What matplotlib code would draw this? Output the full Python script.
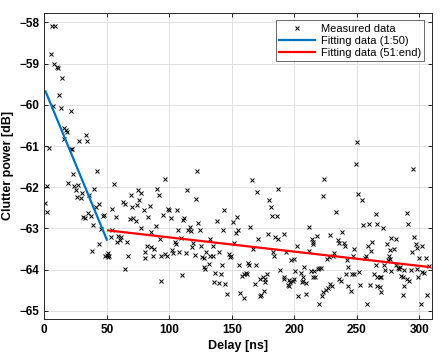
import numpy as np
import matplotlib
matplotlib.use('Agg')
import matplotlib.pyplot as plt

plt.rcParams['font.family'] = ['Liberation Sans', 'DejaVu Sans']

# measured clutter power vs delay
delay_ns = [
    0.6, 2.4, 2.4, 4.0, 5.1, 5.9, 7.2, 8.0, 8.8, 10.4, 11.2, 12.0, 13.1, 14.1, 15.7, 15.7,
    17.3, 17.9, 19.1, 21.0, 21.0, 22.3, 23.1, 23.9, 25.3, 26.3, 27.1, 27.9, 29.0, 29.8,
    31.1, 32.2, 33.0, 33.8, 35.1, 35.9, 37.0, 38.3, 39.1, 39.9, 41.2, 42.0, 43.6, 43.9,
    45.2, 46.6, 47.6, 48.4, 49.8, 51.0, 51.6, 50.6,
    55.8, 96.3, 90.1, 91.5, 75.0, 77.7, 69.1, 63.0, 64.4, 75.8, 74.2, 70.2, 79.7, 84.3,
    54.2, 98.9, 99.7, 57.2, 94.9, 68.3, 71.0, 73.1, 82.9, 77.1, 89.1, 54.2, 85.1, 92.3,
    53.2, 59.0, 61.2, 60.4, 58.5, 66.5, 82.5, 85.6, 87.7, 80.3, 80.9, 86.9, 93.6, 96.3,
    98.1, 67.0, 64.9, 93.1,
    122.0, 114.0, 121.0, 106.1, 144.1, 101.6, 110.9, 112.0, 122.8, 138.3, 151.3, 154.2,
    106.9, 114.8, 116.2, 117.0, 124.2, 143.3, 109.6, 104.2, 105.0, 132.9, 118.8, 118.0,
    125.0, 134.8, 129.5, 132.9, 134.8, 102.4, 102.9, 107.7, 113.6, 120.2, 126.0, 127.6,
    139.6, 147.5, 148.6, 149.4, 132.1, 141.9, 127.6, 128.9, 110.0, 136.9, 141.5, 136.1,
    139.6, 144.9, 146.2,
    165.9, 169.9, 186.6, 180.0, 181.3, 181.8, 186.1, 164.8, 154.7, 153.4, 178.6, 171.2,
    184.8, 186.6, 191.9, 152.1, 201.8, 166.7, 182.6, 184.0, 193.3, 197.3, 199.9, 156.1,
    162.7, 164.0, 169.4, 188.8, 200.7, 205.3, 158.0, 159.5, 161.4, 162.2, 177.8, 176.5,
    174.6, 172.5, 191.4, 192.0, 195.4, 196.7, 198.6, 199.4, 194.6, 195.9, 168.6, 176.8,
    156.9, 160.1, 173.4, 175.4, 172.8, 202.6,
    250.4, 249.1, 223.8, 223.0, 251.2, 253.9, 233.2, 211.3, 255.2, 217.7, 214.0, 215.0,
    214.5, 228.4, 238.0, 234.5, 235.3, 239.8, 240.6, 247.8, 211.9, 231.3, 230.5, 247.0,
    225.7, 227.3, 242.4, 257.1, 256.3, 207.9, 213.2, 215.9, 218.5, 219.9, 221.2, 243.2,
    206.5, 207.1, 209.2, 206.1, 214.5, 216.7, 241.2, 246.0, 247.8, 251.8, 235.3, 237.2,
    228.6, 230.0, 226.5, 225.2, 252.6, 243.2, 245.1, 209.2, 223.0, 222.0, 219.9, 258.4,
    295.1, 265.1, 289.8, 290.8, 259.7, 265.8, 271.1, 295.6, 277.0, 281.0, 273.8, 279.7,
    276.5, 297.0, 297.8, 302.2, 259.0, 262.4, 261.6, 294.3, 275.7, 276.5, 274.9, 299.6,
    305.0, 307.6, 265.1, 271.7, 281.0, 282.9, 284.4, 272.5, 277.0, 283.7, 287.6, 293.0,
    297.8, 299.0, 302.2, 303.6, 263.7, 266.3, 268.5, 269.5, 285.0, 287.1, 290.3, 291.6,
    287.6, 260.5, 266.3, 268.5, 269.1, 287.1, 305.7, 301.0,
]
power_db = [
    -62.38, -61.97, -62.60, -61.05, -58.77, -58.08, -60.02, -59.00, -58.08, -59.08, -59.11,
    -59.75, -60.08, -59.35, -60.56, -60.82, -60.60, -60.65, -61.90, -60.16, -61.07, -61.07,
    -61.68, -61.98, -62.06, -62.25, -61.94, -60.87, -62.26, -62.14, -62.72, -62.75, -60.74,
    -60.87, -62.63, -62.18, -62.69, -63.54, -62.91, -62.04, -62.47, -61.60, -62.42, -63.38,
    -63.01, -62.71, -62.67, -63.68, -63.64, -63.60, -63.66, -63.70,
    -61.92, -61.79, -62.04, -62.20, -62.08, -62.14, -62.20, -62.36, -62.40, -62.32, -62.43,
    -62.49, -62.55, -62.45, -62.53, -62.52, -62.56, -62.72, -62.67, -62.77, -62.76, -62.81,
    -62.73, -63.00, -62.95, -63.03, -63.10, -63.26, -63.21, -63.18, -63.22, -63.29, -63.32,
    -63.34, -63.44, -63.45, -63.49, -63.57, -63.71, -63.66, -63.66, -63.62, -63.68, -63.68,
    -63.99, -64.29,
    -61.60, -62.06, -62.28, -62.56, -62.55, -62.75, -62.79, -62.76, -62.87, -62.81, -62.85,
    -62.72, -63.05, -63.03, -62.97, -63.07, -63.05, -63.03, -63.23, -63.34, -63.37, -63.26,
    -63.35, -63.46, -63.44, -63.42, -63.58, -63.66, -63.68, -63.53, -63.61, -63.58, -63.60,
    -63.64, -63.69, -63.72, -63.57, -63.62, -63.70, -63.66, -63.86, -63.88, -63.95, -63.99,
    -64.14, -64.08, -64.10, -64.31, -64.33, -64.34, -64.59,
    -61.82, -62.11, -62.04, -62.32, -62.47, -62.71, -62.71, -62.97, -63.05, -63.11, -63.14,
    -63.26, -63.21, -63.26, -63.14, -63.35, -63.42, -63.49, -63.58, -63.66, -63.57, -63.78,
    -63.74, -63.90, -63.83, -63.88, -63.90, -64.02, -64.04, -64.08, -64.15, -64.10, -64.08,
    -64.12, -64.10, -64.22, -64.18, -64.23, -64.17, -64.22, -64.26, -64.31, -64.29, -64.23,
    -64.37, -64.41, -64.34, -64.31, -64.57, -64.69, -64.61, -64.53, -64.65, -64.65,
    -60.90, -61.44, -61.80, -62.22, -62.16, -62.32, -62.61, -62.97, -62.93, -63.19, -63.27,
    -63.39, -63.34, -63.16, -63.10, -63.29, -63.36, -63.36, -63.42, -63.49, -63.56, -63.61,
    -63.68, -63.66, -63.74, -63.70, -63.76, -63.66, -63.72, -63.95, -64.04, -64.04, -63.99,
    -63.96, -63.96, -63.94, -64.17, -64.29, -64.33, -64.31, -64.18, -64.17, -64.10, -64.10,
    -64.12, -64.07, -64.23, -64.29, -64.34, -64.39, -64.45, -64.50, -64.38, -64.41, -64.53,
    -64.59, -64.55, -64.65, -64.84, -64.84,
    -61.56, -62.65, -62.63, -62.89, -62.89, -62.89, -62.99, -63.21, -63.23, -63.27, -63.39,
    -63.50, -63.53, -63.39, -63.48, -63.44, -63.44, -63.34, -63.56, -63.58, -63.66, -63.74,
    -63.78, -63.72, -63.72, -63.92, -63.90, -63.90, -63.90, -63.96, -63.94, -64.02, -64.04,
    -63.99, -64.02, -64.00, -63.99, -64.17, -64.07, -64.08, -64.12, -64.17, -64.18, -64.17,
    -64.15, -64.17, -64.23, -64.29, -64.41, -64.37, -64.41, -64.42, -64.55, -64.63, -64.63,
    -64.84,
]

# linear fits (slope, intercept) and their ranges
fit1_coef = [-0.0735, -59.60]
fit1_range = [1, 50]
fit2_coef = [-0.00346, -62.873]
fit2_range = [51, 308]

fig = plt.figure(figsize=(4.43, 3.6), dpi=100)
ax = fig.add_axes([0.1, 0.114, 0.875, 0.851])

ax.plot(delay_ns, power_db, 'x', color='black', markersize=3.5, markeredgewidth=0.7,
        label='Measured data')
x1 = np.array(fit1_range)
ax.plot(x1, np.polyval(fit1_coef, x1), color='#0072BD', lw=1.6, label='Fitting data (1:50)')
x2 = np.array(fit2_range)
ax.plot(x2, np.polyval(fit2_coef, x2), color='#FF0000', lw=1.6, label='Fitting data (51:end)')

ax.set_xlim(0, 310)
ax.set_ylim(-65.2, -57.76)
ax.set_xticks(np.arange(0, 301, 50))
ax.set_yticks(np.arange(-65, -57.9, 1))
ax.grid(True, color='#e0e0e0', lw=0.7)
ax.set_axisbelow(True)
ax.tick_params(direction='in', top=True, right=True, length=3, width=0.6, labelsize=8.5)
for lab in ax.get_xticklabels() + ax.get_yticklabels():
    lab.set_fontweight('bold')
for sp in ax.spines.values():
    sp.set_color('#262626')
    sp.set_linewidth(0.7)

ax.set_xlabel('Delay [ns]', fontsize=9, fontweight='bold', labelpad=3)
ax.set_ylabel('Clutter power [dB]', fontsize=9, fontweight='bold', labelpad=4)

leg = ax.legend(loc='upper right', fontsize=8, frameon=True, fancybox=False,
                edgecolor='#262626', handlelength=3.2, borderaxespad=0.7,
                labelspacing=0.2, borderpad=0.3, handletextpad=0.5)
leg.get_frame().set_linewidth(0.6)

fig.savefig('out.png', dpi=100, facecolor='white')
